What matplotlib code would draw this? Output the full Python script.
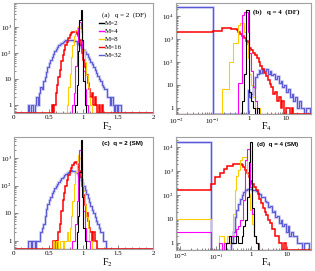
import numpy as np
import matplotlib
matplotlib.use('Agg')
import matplotlib.pyplot as plt
from matplotlib.lines import Line2D
from matplotlib.ticker import FixedLocator, NullFormatter, LogLocator, MultipleLocator

plt.rcParams['font.family'] = ['Liberation Serif', 'DejaVu Serif']
plt.rcParams['mathtext.fontset'] = 'stix'

labels = ['M=2', 'M=4', 'M=8', 'M=16', 'M=32']
colors = ['black', '#ff00ff', '#ffcc00', '#ff0000', '#5a5ad8']

# ---- bin grids ----
f2_edges = np.round(np.arange(0, 2.0001, 0.02), 4)          # panels (a),(c): F2, width 0.02
b_logedges = np.round(np.arange(-1.0, 1.7001, 0.05), 4)    # panel (b): log10 F4, plus bin [xmin, 0.1]
d_logedges = np.round(np.arange(-1.125, 1.7251, 0.05), 4)  # panel (d): log10 F4, plus bin [xmin, 0.075]

# ---- (a) q=2 DF : start of first bin, counts ----
a_m2_from, a_m2 = 0.88, [1, 6, 120, 1800, 4500, 300, 8, 1]
a_m4_from, a_m4 = 0.84, [1, 3, 30, 250, 900, 1550, 850, 150, 20, 4, 1]
a_m8_from, a_m8 = 0.76, [1, 5, 15, 70, 200, 420, 750, 1000, 1100, 900, 640, 300, 130, 45, 14, 5, 2, 1]
a_m16_from, a_m16 = 0.54, [1, 0, 1, 3, 6, 12, 22, 50, 85, 130, 190, 260, 360, 460, 560, 610, 640,
                           620, 540, 430, 300, 190, 100, 55, 28, 14, 7, 4, 2, 3, 1, 2, 1, 0, 1, 0, 1]
a_m32_from, a_m32 = 0.20, [1, 0, 1, 1, 0, 1, 2, 1, 3, 5, 4, 8, 12, 18, 28, 40, 52, 70, 90, 115, 140,
                           165, 190, 215, 240, 260, 280, 295, 305, 310, 315, 310, 300, 285, 270, 245,
                           215, 190, 165, 140, 130, 110, 90, 72, 58, 46, 36, 28, 22, 17, 13, 10, 8, 6,
                           5, 4, 4, 2, 2, 1, 2, 1, 0, 1, 0, 1, 1]

# ---- (c) q=2 SM ----
c_m2_from, c_m2 = 0.90, [2, 8, 300, 4600, 40, 3, 1]
c_m4_from, c_m4 = 0.84, [1, 1, 4, 28, 300, 2000, 700, 90, 12, 3, 1, 1, 1]
c_m8_from, c_m8 = 0.56, [1, 0, 1, 1, 0, 1, 1, 0, 1, 1, 2, 1, 3, 8, 28, 110, 300, 750, 1300, 1000,
                         500, 180, 65, 20, 7, 3, 1, 1]
c_m16_from, c_m16 = 0.56, [1, 1, 0, 1, 2, 4, 12, 30, 55, 100, 160, 240, 340, 440, 560, 660, 700,
                           620, 480, 340, 200, 100, 45, 20, 10, 5, 3, 2, 1, 2, 1, 1]
c_m32_from, c_m32 = 0.20, [1, 1, 0, 1, 1, 0, 1, 1, 1, 2, 3, 4, 8, 14, 21, 30, 40, 52, 65, 82, 100,
                           118, 140, 160, 185, 210, 240, 270, 295, 320, 345, 360, 350, 330, 310, 280,
                           240, 200, 160, 125, 95, 70, 50, 35, 26, 18, 13, 10, 7, 5, 4, 3, 2, 2, 1, 1]

# ---- (b) q=4 DF : first (low) bin, start log10 F4, counts ----
b_m2_low, b_m2_from, b_m2 = 0, -0.20, [2, 30, 18000, 18000, 5, 2, 1, 0, 1]
b_m4_low, b_m4_from, b_m4 = 0, -0.30, [12, 12, 11000, 15000, 15000, 2000, 250, 40, 8, 2]
b_m8_low, b_m8_from, b_m8 = 0, -0.75, [7, 7, 7, 7, 100, 100, 700, 700, 700, 4000, 4800, 5000,
                                      2000, 700, 150, 30, 10, 3, 1, 1, 1]
b_m16_low, b_m16_from, b_m16 = 2000, -1.00, [2200, 2200, 2200, 2200, 2200, 3000, 3000, 3000, 3000,
                                            3000, 2800, 2800, 2800, 2400, 2000, 1700, 1400, 1100,
                                            800, 600, 430, 330, 260, 200, 150, 100, 70, 48, 35, 24,
                                            16, 11, 8, 4, 5, 2, 3, 1, 2, 0, 1, 1, 0, 1]
b_m32_low, b_m32_from, b_m32 = 25000, -0.05, [6, 3, 4, 8, 22, 30, 45, 35, 50, 40, 48, 30, 42, 28,
                                             30, 18, 24, 12, 15, 8, 10, 5, 7, 3, 4, 2, 3, 1, 2,
                                             1, 1, 0, 1, 1]

# ---- (d) q=4 SM ----
d_m2_low, d_m2_from, d_m2 = 0, -0.725, [1, 1, 2, 1, 1, 1, 2, 1, 1, 2, 5, 9, 80, 2500, 16000, 30, 2, 1]
d_m4_low, d_m4_from, d_m4 = 3, -0.925, [1, 1, 0, 1, 1, 1, 2, 2, 2, 2, 4, 5, 9, 9, 60, 3000, 8000,
                                       8000, 220, 16, 2, 1, 1]
d_m8_low, d_m8_from, d_m8 = 10, -0.925, [2, 2, 2, 1, 1, 2, 1, 2, 16, 160, 600, 1100, 2900, 3800,
                                        3800, 3800, 780, 110, 24, 6, 2, 1, 1]
d_m16_low, d_m16_from, d_m16 = 160, -1.125, [300, 300, 560, 560, 560, 830, 830, 1250, 1250, 1600,
                                            1600, 1600, 2000, 2000, 2000, 2000, 2000, 1800, 1500,
                                            1100, 800, 560, 380, 300, 220, 160, 110, 70, 45, 30,
                                            20, 15, 9, 7, 4, 4, 2, 2, 1, 1, 0, 1]
d_m32_low, d_m32_from, d_m32 = 16000, -0.575, [1, 3, 12, 25, 43, 70, 100, 130, 160, 180, 180, 175,
                                              170, 165, 150, 120, 110, 85, 80, 55, 50, 32, 35, 20,
                                              22, 12, 14, 7, 9, 5, 6, 3, 5, 2, 3, 2, 2, 1, 1, 1,
                                              0, 1, 1, 1]


def place(grid, start, counts):
    full = np.zeros(len(grid) - 1)
    i0 = int(np.argmin(np.abs(grid - start)))
    full[i0:i0 + len(counts)] = counts
    return full


def draw_hists(ax, edges, hists, ymin):
    for i in [4, 3, 2, 1, 0]:
        vals = np.maximum(hists[i], ymin)
        if i == 4:
            ax.stairs(vals, edges, baseline=ymin, color='#c4c4f4', lw=1.8, zorder=1)
        ax.stairs(vals, edges, baseline=ymin, color=colors[i],
                  lw=1.1 if i == 3 else 0.8, zorder=2)


def style(ax, ylim, yticks, ylabels):
    ax.set_yscale('log')
    ax.set_ylim(*ylim)
    ax.yaxis.set_major_locator(FixedLocator(yticks))
    ax.set_yticklabels(ylabels)
    ax.yaxis.set_minor_locator(LogLocator(base=10, subs=np.arange(2, 10)))
    ax.yaxis.set_minor_formatter(NullFormatter())
    ax.tick_params(which='both', direction='in', labelsize=5, pad=1.5, color='#555555', width=0.5)
    ax.tick_params(which='major', length=3)
    ax.tick_params(which='minor', length=1.5)
    for s in ax.spines.values():
        s.set_color('#a0a0a0')
        s.set_linewidth(0.8)


fig = plt.figure(figsize=(3.15, 2.71), dpi=100)
ax_a = fig.add_axes([0.0444, 0.583, 0.4413, 0.406])
ax_b = fig.add_axes([0.5587, 0.579, 0.4286, 0.410])
ax_c = fig.add_axes([0.0444, 0.081, 0.4413, 0.413])
ax_d = fig.add_axes([0.5587, 0.079, 0.4286, 0.415])

# linear panels
for ax, data, ylim in [
        (ax_a, [(a_m2_from, a_m2), (a_m4_from, a_m4), (a_m8_from, a_m8), (a_m16_from, a_m16),
                (a_m32_from, a_m32)], (0.5, 8000)),
        (ax_c, [(c_m2_from, c_m2), (c_m4_from, c_m4), (c_m8_from, c_m8), (c_m16_from, c_m16),
                (c_m32_from, c_m32)], (0.5, 5700))]:
    hists = [place(f2_edges, s, c) for s, c in data]
    draw_hists(ax, f2_edges, hists, ylim[0])
    ax.set_xlim(0, 2)
    ax.xaxis.set_major_locator(FixedLocator([0, 0.5, 1, 1.5, 2]))
    ax.set_xticklabels(['0', '0.5', '1', '1.5', '2'])
    ax.xaxis.set_minor_locator(MultipleLocator(0.1))
    style(ax, ylim, [1, 10, 100, 1000], ['1', '10', '10$^{2}$', '10$^{3}$'])
    ax.set_xlabel('F$_2$', fontsize=7)
    ax.xaxis.set_label_coords(0.675, -0.065)

# log panels
for ax, xmin, grid, data, ylim in [
        (ax_b, 0.01, b_logedges,
         [(b_m2_low, b_m2_from, b_m2), (b_m4_low, b_m4_from, b_m4), (b_m8_low, b_m8_from, b_m8),
          (b_m16_low, b_m16_from, b_m16), (b_m32_low, b_m32_from, b_m32)], (0.55, 37000)),
        (ax_d, 0.0075, d_logedges,
         [(d_m2_low, d_m2_from, d_m2), (d_m4_low, d_m4_from, d_m4), (d_m8_low, d_m8_from, d_m8),
          (d_m16_low, d_m16_from, d_m16), (d_m32_low, d_m32_from, d_m32)], (0.54, 26000))]:
    edges = np.concatenate([[xmin], 10 ** grid])
    hists = [np.concatenate([[low], place(grid, s, c)]) for low, s, c in data]
    draw_hists(ax, edges, hists, ylim[0])
    ax.set_xscale('log')
    ax.set_xlim(xmin, 48)
    ax.xaxis.set_major_locator(FixedLocator([0.01, 0.1, 1, 10]))
    ax.set_xticklabels(['10$^{-2}$', '10$^{-1}$', '1', '10'])
    ax.xaxis.set_minor_locator(LogLocator(base=10, subs=np.arange(2, 10)))
    ax.xaxis.set_minor_formatter(NullFormatter())
    style(ax, ylim, [1, 10, 100, 1000, 10000],
          ['1', '10', '10$^{2}$', '10$^{3}$', '10$^{4}$'])
    ax.set_xlabel('F$_4$', fontsize=7)
    ax.xaxis.set_label_coords(0.67, -0.06)

ax_a.text(0.633, 0.89, '(a)   q = 2  (DF)', transform=ax_a.transAxes, fontsize=5,
          va='center', ha='left')
ax_b.text(0.57, 0.92, '(b)   q = 4  (DF)', transform=ax_b.transAxes, fontsize=5,
          va='center', ha='left', fontweight='bold')
ax_c.text(0.633, 0.94, '(c)  q = 2 (SM)', transform=ax_c.transAxes, fontsize=4.5,
          va='center', ha='left', fontweight='bold', family='Liberation Sans')
ax_d.text(0.60, 0.93, '(d)  q = 4 (SM)', transform=ax_d.transAxes, fontsize=4.5,
          va='center', ha='left', fontweight='bold', family='Liberation Sans')

handles = [Line2D([], [], color=c, lw=1.0) for c in colors]
ax_a.legend(handles, labels, loc='upper left', bbox_to_anchor=(0.615, 0.84), fontsize=5,
            frameon=False, handlelength=0.6, handletextpad=0.2, labelspacing=0.3,
            borderaxespad=0, borderpad=0)

fig.savefig('out.png', dpi=100)
